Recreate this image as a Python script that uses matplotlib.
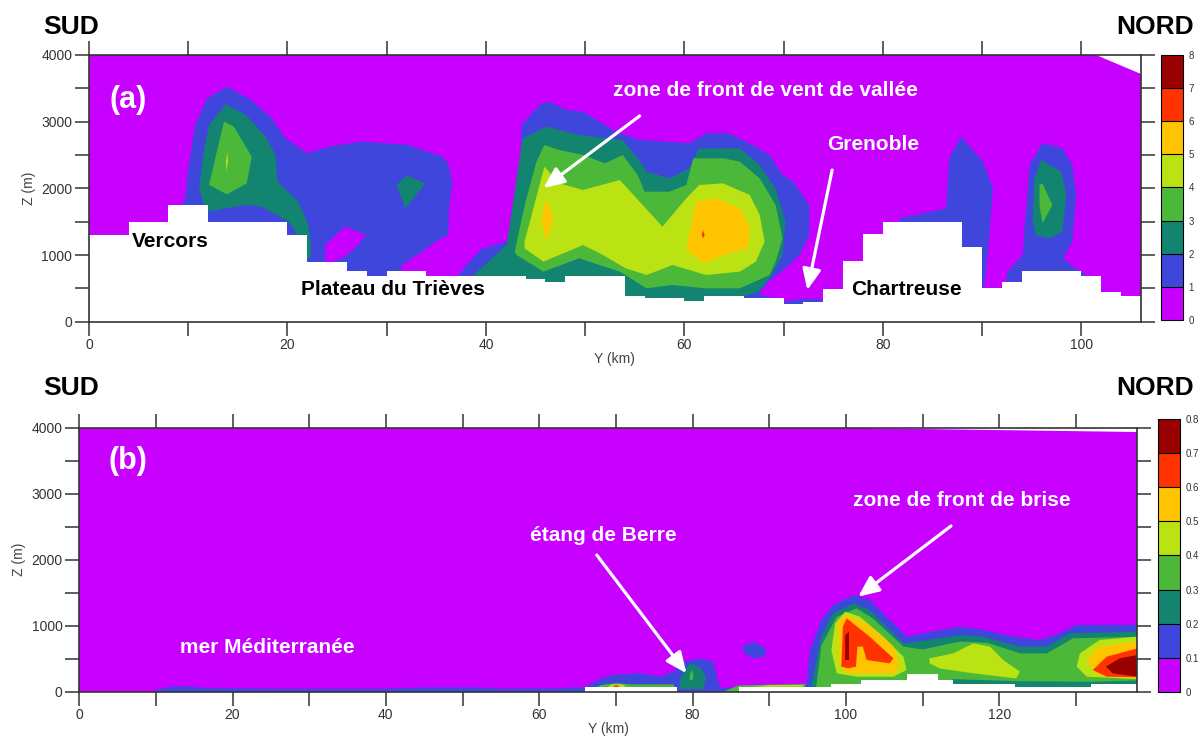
import matplotlib
matplotlib.use("Agg")
import matplotlib.pyplot as plt
from matplotlib.colors import ListedColormap, BoundaryNorm
import matplotlib.colorbar as mcolorbar
import numpy as np

plt.rcParams['font.family'] = ['Liberation Sans', 'DejaVu Sans']

# shading colours, lowest band first
band_colors = ['#C800FF', '#3E46DC', '#12846F', '#4CB83A',
               '#BBE313', '#FFC400', '#FF3300', '#990000']
levels_a = [0, 1, 2, 3, 4, 5, 6, 7, 8]
levels_b = [0, 0.1, 0.2, 0.3, 0.4, 0.5, 0.6, 0.7, 0.8]
labels_a = ['0', '1', '2', '3', '4', '5', '6', '7', '8']
labels_b = ['0', '0.1', '0.2', '0.3', '0.4', '0.5', '0.6', '0.7', '0.8']

# ---- panel (a) : Trièves / Grenoble section (Y km, Z m) ----
a_terrain_edges = [0, 4, 8, 12, 20, 22, 26, 28, 30, 34, 44, 46, 48, 54, 56, 60, 62, 66,
                   70, 72, 74, 76, 78, 80, 88, 90, 92, 94, 100, 102, 104, 106]
a_terrain_z = [1300, 1500, 1750, 1500, 1300, 900, 760, 690, 760, 690, 640, 600, 690,
               390, 350, 310, 390, 350, 260, 300, 490, 910, 1310, 1500, 1120, 500,
               600, 760, 690, 450, 390]
a_top_cut = [(101.5, 4000), (106, 4000), (106, 3710)]

a_blue_w = [(9.4, 0), (9.4, 1750), (9.7, 1850), (10.0, 2300), (10.7, 2950), (11.9, 3350),
            (13.9, 3525), (16.1, 3350), (18.3, 3075), (19.8, 2750), (22.0, 2525),
            (24.2, 2625), (27.5, 2700), (32.2, 2650), (34.6, 2525), (35.6, 2480),
            (36.2, 2370), (36.6, 2100), (36.3, 1700), (36.2, 1300), (34.9, 1200),
            (33.6, 1050), (31.5, 850), (31.0, 0)]
a_hole_w = [(23.8, 1150), (25.8, 1425), (27.9, 1300), (26.8, 1100), (25.5, 950),
            (24.2, 875), (23.8, 900)]
a_teal_w = [(11.7, 1675), (11.1, 2000), (11.5, 2500), (12.1, 2950), (13.8, 3260),
            (15.8, 3100), (17.8, 2775), (18.8, 2500), (19.0, 2100), (21.1, 1800),
            (22.1, 1450), (22.4, 1100), (22.3, 950), (21.9, 950), (21.5, 1200),
            (20.1, 1500), (17.4, 1725), (15.8, 1750), (13.8, 1700), (12.5, 1660)]
a_green_w = [(12.1, 2050), (12.8, 2500), (13.6, 3000), (14.6, 2925), (16.4, 2475),
             (15.9, 2075), (13.9, 1910)]
a_yg_w = [(13.85, 2250), (14.0, 2400), (13.95, 2550), (13.8, 2400)]
a_teal_s = [(31.0, 2050), (32.0, 2190), (33.9, 2075), (31.9, 1700)]

a_blue_c = [(37.3, 0), (37.3, 700), (38.0, 850), (39.7, 1100), (42.1, 1200), (43.4, 1900),
            (43.6, 2950), (45.4, 3250), (46.4, 3300), (48.1, 3175), (49.8, 3150),
            (53.1, 2850), (55.5, 2725), (60.5, 2675), (62.2, 2825), (64.5, 2825),
            (67.2, 2625), (68.6, 2500), (69.9, 2200), (71.0, 2100), (72.6, 1750),
            (72.6, 1300), (71.6, 1000), (70.2, 800), (68.5, 600), (67.5, 420),
            (70, 300), (72, 340), (74, 340), (74, 0)]
a_teal_c = [(38.5, 0), (38.8, 700), (39.5, 800), (42.1, 1150), (43.7, 2750), (46.1, 2925),
            (49.4, 2800), (53.8, 2725), (55.3, 2450), (56.2, 2250), (58.5, 2150),
            (60.5, 2300), (61.5, 2600), (65.6, 2600), (67.6, 2350), (69.2, 2000),
            (70.2, 1500), (69.9, 1000), (68.8, 700), (67.5, 450), (66, 380), (66, 0)]
a_green_c = [(42.9, 1050), (44.0, 1800), (45.1, 2400), (45.9, 2650), (47.4, 2575),
             (49.8, 2500), (52.0, 2375), (53.8, 2500), (55.3, 2200), (56.0, 1950),
             (58.5, 1950), (60.2, 2050), (60.9, 2450), (63.9, 2450), (65.6, 2400),
             (67.6, 2150), (69.2, 1750), (69.9, 1250), (69.2, 900), (68.6, 700),
             (65.6, 500), (62.2, 500), (58.8, 550), (56.2, 500), (53.5, 750),
             (49.4, 950), (45.8, 750), (43.1, 1000)]
a_yg_c = [(43.9, 1200), (45.9, 2325), (47.4, 2075), (49.8, 1975), (53.5, 2125),
          (57.8, 1425), (60.2, 1850), (61.5, 2050), (63.9, 2075), (66.6, 1900),
          (67.6, 1600), (68.1, 1200), (67.2, 900), (65.6, 750), (62.2, 700),
          (58.8, 850), (56.2, 700), (54.1, 800), (51.8, 1000), (49.8, 1150),
          (47.4, 1000), (45.8, 900), (43.9, 1100)]
a_or_l = [(46.0, 1850), (46.8, 1550), (46.1, 1200), (45.6, 1500)]
a_or_r = [(60.2, 1100), (61.2, 1800), (63.2, 1850), (65.6, 1700), (66.6, 1400),
          (66.4, 1100), (64.9, 1050), (61.9, 875), (60.9, 1000)]
a_red_r = [(61.9, 1250), (62.05, 1300), (61.9, 1370), (61.75, 1300)]

a_blue_ch = [(81.7, 400), (81.7, 1550), (84.0, 1620), (86.4, 1700), (86.7, 2450),
             (87.9, 2775), (90.1, 2400), (91.1, 2000), (90.7, 1200), (90.3, 600),
             (90.0, 400)]
a_blue_e = [(92.4, 600), (92.6, 750), (94.1, 1000), (94.8, 2350), (96.1, 2675),
            (98.1, 2600), (99.1, 2350), (99.5, 1900), (99.1, 1200), (98.2, 950),
            (99.4, 800), (100.4, 720), (100.4, 600)]
a_teal_e = [(95.1, 1500), (95.3, 2150), (96.0, 2425), (98.0, 2250), (98.5, 1900),
            (98.1, 1350), (96.8, 1250), (95.4, 1300)]
a_green_e = [(95.8, 2050), (96.1, 2075), (97.1, 1750), (96.1, 1475), (95.8, 1750)]

a_layers = [(1, a_blue_w), (0, a_hole_w), (2, a_teal_w), (3, a_green_w), (4, a_yg_w),
            (2, a_teal_s), (1, a_blue_c), (2, a_teal_c), (3, a_green_c), (4, a_yg_c),
            (5, a_or_l), (5, a_or_r), (6, a_red_r), (1, a_blue_ch), (1, a_blue_e),
            (2, a_teal_e), (3, a_green_e)]

# ---- panel (b) : Marseille / étang de Berre section ----
b_terrain_edges = [0, 66, 78, 86, 98, 102, 108, 112, 114, 122, 132, 138]
b_terrain_z = [0, 75, 0, 75, 115, 175, 270, 175, 115, 75, 115]
b_top_cut = [(100.5, 4000), (138, 4000), (138, 3930)]

b_blue_low = [(9.5, 0), (10.5, 40), (12, 75), (14, 80), (17, 55), (25, 45), (40, 45),
              (45, 65), (52, 65), (55, 45), (62, 50), (66, 70), (68, 200), (70, 260),
              (73.1, 278), (75.7, 227), (77.5, 303), (78.8, 455), (80.9, 505),
              (82.7, 455), (83.3, 177), (83.6, 60), (90, 70), (95, 100), (95, 0)]
b_teal_berre = [(78.3, 40), (78.3, 177), (79.6, 430), (80.9, 379), (81.8, 227), (81.4, 40)]
b_green_berre = [(79.6, 177), (79.7, 280), (79.9, 330), (80.1, 250), (80.0, 177)]
b_green_low = [(66.5, 0), (68, 100), (70, 130), (72, 110), (77.5, 110), (78, 0)]
b_yg_low = [(68.8, 60), (69.5, 110), (70.8, 110), (71.5, 60)]
b_red_low = [(69.6, 70), (70.0, 100), (70.6, 70)]
b_green_floor = [(84, 0), (86, 95), (92, 110), (96, 120), (96, 0)]
b_yg_floor = [(88, 75), (90, 100), (94, 100), (95, 75)]
b_blue_blob = [(86.4, 682), (87.9, 757), (89.6, 656), (89.4, 530), (87.9, 505), (86.8, 580)]

b_blue_main = [(94.0, 0), (94.9, 126), (95.3, 631), (96.8, 1086), (98.3, 1313), (101, 1465),
               (103.1, 1389), (106.2, 1035), (107.9, 833), (110.1, 884), (114.9, 985),
               (117.9, 934), (121.8, 833), (125.3, 783), (127.9, 884), (130.1, 1010),
               (138, 1010), (138, 0)]
b_teal_main = [(95.2, 0), (95.6, 150), (96.8, 833), (98.3, 1187), (101, 1338),
               (103.1, 1237), (107.5, 732), (110.5, 780), (114.9, 858), (118, 830),
               (122.7, 682), (126.2, 682), (129.2, 884), (138, 909), (138, 0)]
b_green_main = [(96.0, 0), (96.2, 150), (96.8, 700), (98.8, 1136), (101.4, 1262),
                (103.5, 1111), (107.5, 682), (110, 640), (114.9, 760), (118.5, 740),
                (122.7, 580), (126.2, 580), (129.6, 808), (138, 833), (138, 170),
                (132, 150), (122, 160), (114, 190), (112, 0)]
b_yg_main = [(98.1, 631), (98.6, 1035), (99.9, 1212), (101.8, 1136), (104.9, 833),
             (107.5, 530), (107.9, 328), (106.2, 227), (101.4, 227), (98.8, 278)]
b_yg_mid = [(110.9, 430), (110.9, 505), (114, 581), (116.6, 732), (118.8, 682),
            (120.5, 480), (122.7, 303), (122.2, 202), (116.6, 278), (112.2, 353)]
b_yg_right = [(130.1, 379), (130.5, 580), (133.1, 783), (138, 833), (138, 190), (131.4, 227)]
b_or_main = [(99.0, 783), (99.0, 1086), (100.1, 1162), (102.7, 1035), (106.2, 682),
             (107.0, 379), (106.2, 278), (100.1, 278), (99.2, 429)]
b_or_right = [(131.4, 480), (133.1, 682), (138, 758), (138, 200), (132.7, 252)]
b_red_main = [(99.4, 379), (99.6, 985), (100.1, 1111), (103.1, 833), (106.2, 505),
              (105.7, 429), (102.7, 480), (102.2, 682), (101.5, 682), (101.3, 379),
              (100.3, 354)]
b_red_right = [(132.2, 328), (134.0, 530), (138, 656), (138, 220), (134, 227)]
b_dred_main = [(99.9, 480), (99.9, 860), (100.4, 910), (100.4, 480)]
b_dred_right = [(133.9, 379), (135.7, 505), (138, 555), (138, 227), (134.8, 278)]

b_layers = [(1, b_blue_low), (2, b_teal_berre), (3, b_green_berre), (3, b_green_low),
            (4, b_yg_low), (6, b_red_low), (3, b_green_floor), (4, b_yg_floor),
            (1, b_blue_blob), (1, b_blue_main), (2, b_teal_main), (3, b_green_main),
            (4, b_yg_main), (4, b_yg_mid), (4, b_yg_right), (5, b_or_main),
            (5, b_or_right), (6, b_red_main), (6, b_red_right), (7, b_dred_main),
            (7, b_dred_right)]

# annotations : (text, Y, Z, colour, size)
a_texts = [('(a)', 3.9, 3325, 'white', 22), ('zone de front de vent de vallée', 68.2, 3460, 'white', 15),
           ('Grenoble', 79.0, 2650, 'white', 15), ('Vercors', 8.2, 1210, 'black', 15),
           ('Plateau du Trièves', 30.6, 490, 'black', 15), ('Chartreuse', 82.4, 490, 'black', 15)]
a_arrows = [((55.5, 3086), (45.8, 2005)), ((74.9, 2275), (72.4, 475))]
b_texts = [('(b)', 6.4, 3496, 'white', 22), ('étang de Berre', 68.3, 2359, 'white', 15),
           ('zone de front de brise', 115.1, 2889, 'white', 15),
           ('mer Méditerranée', 24.6, 662, 'white', 15)]
b_arrows = [((67.5, 2071), (79.2, 279)), ((113.7, 2510), (101.6, 1439))]


def draw_panel(ax, cax, layers, edges, tz, cut, ymax, texts, arrows, levels, labels):
    ax.set_facecolor(band_colors[0])
    for band, poly in layers:
        ys, zs = zip(*poly)
        ax.fill(ys, zs, color=band_colors[band], lw=0, zorder=2)
    ax.fill_between(edges, list(tz) + [tz[-1]], 0, step='post', color='white', lw=0, zorder=3)
    cy, cz = zip(*cut)
    ax.fill(cy, cz, color='white', lw=0, zorder=3)
    for txt, y, z, col, fs in texts:
        ax.text(y, z, txt, color=col, fontsize=fs, fontweight='bold',
                ha='center', va='center', zorder=5)
    for start, end in arrows:
        ax.annotate('', xy=end, xytext=start, zorder=5,
                    arrowprops=dict(arrowstyle='-|>,head_length=0.9,head_width=0.4',
                                    color='white', lw=2.3, mutation_scale=14,
                                    shrinkA=0, shrinkB=0))
    ax.set_xlim(0, ymax)
    ax.set_ylim(0, 4000)
    ax.set_xticks(range(0, int(ymax) + 1, 20))
    ax.set_xticks(range(10, int(ymax) + 1, 20), minor=True)
    ax.set_yticks(range(0, 4001, 1000))
    ax.set_yticks(range(500, 4000, 1000), minor=True)
    ax.tick_params(which='both', direction='out', length=10, width=1.1, top=True,
                   right=True, colors='#333333', labelsize=10, labelcolor='#333333',
                   pad=2)
    for sp in ax.spines.values():
        sp.set_color('#333333')
        sp.set_linewidth(1.2)
        sp.set_zorder(6)
    ax.set_xlabel('Y (km)', fontsize=10, color='#444444', labelpad=0)
    ax.set_ylabel('Z (m)', fontsize=10, color='#444444')

    cmap = ListedColormap(band_colors)
    norm = BoundaryNorm(levels, cmap.N)
    cb = mcolorbar.ColorbarBase(cax, cmap=cmap, norm=norm, boundaries=levels,
                                ticks=levels, drawedges=True)
    cb.outline.set_linewidth(0.8)
    cb.dividers.set_linewidth(0.8)
    cb.ax.set_yticklabels(labels)
    cb.ax.tick_params(length=0, labelsize=7, labelcolor='#333333', pad=4)


fig = plt.figure(figsize=(12.03, 7.40), dpi=100)
ax_a = fig.add_axes([0.0740, 0.5653, 0.8742, 0.3604])
cax_a = fig.add_axes([0.9651, 0.5676, 0.0183, 0.3581])
ax_b = fig.add_axes([0.0658, 0.0653, 0.8796, 0.3568])
cax_b = fig.add_axes([0.9629, 0.0653, 0.0180, 0.3681])

draw_panel(ax_a, cax_a, a_layers, a_terrain_edges, a_terrain_z, a_top_cut, 106,
           a_texts, a_arrows, levels_a, labels_a)
draw_panel(ax_b, cax_b, b_layers, b_terrain_edges, b_terrain_z, b_top_cut, 138,
           b_texts, b_arrows, levels_b, labels_b)

for yy in (0.9635, 0.4757):
    fig.text(0.059, yy, 'SUD', fontsize=19, fontweight='bold', ha='center', va='center')
    fig.text(0.960, yy, 'NORD', fontsize=19, fontweight='bold', ha='center', va='center')

fig.savefig('out.png', dpi=100)
